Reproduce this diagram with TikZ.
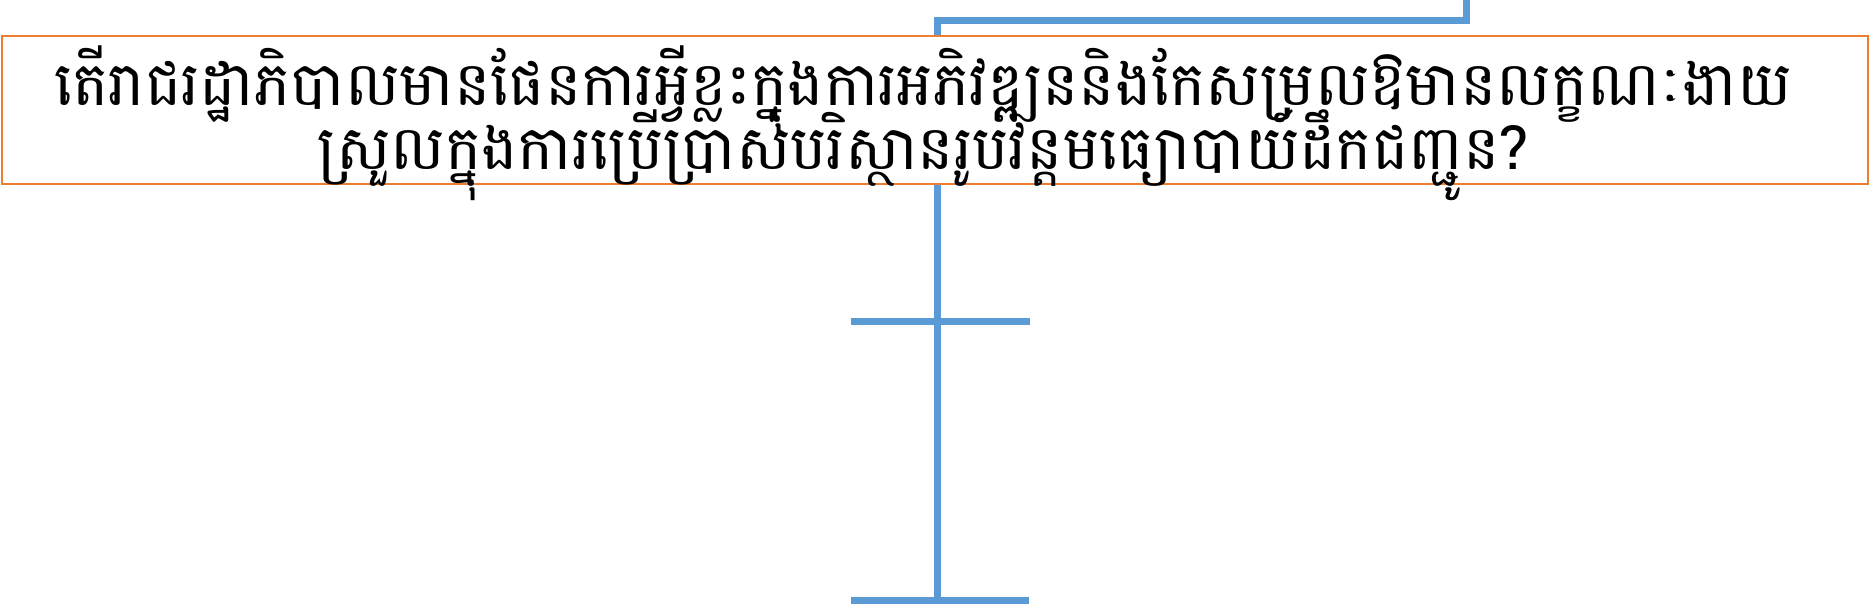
\documentclass[tikz,border=0pt]{standalone}
\usepackage{fontspec}
\newfontfamily\khmerfont[Script=Khmer]{Battambang}
\usetikzlibrary{backgrounds}
\definecolor{officeblue}{HTML}{5B9BD5}
\definecolor{officeorange}{HTML}{ED7D31}
\newcommand\qfont{\khmerfont\fontsize{61pt}{64pt}\selectfont\lineskiplimit=-500pt\relax\lineskip=0pt\relax}
\tikzset{
  qbox/.style={draw=officeorange, line width=2.5pt, fill=white, inner sep=0pt,
    minimum width=1866pt, minimum height=148pt},
  qtext/.style={inner sep=0pt, align=center, font=\qfont},
  bline/.style={draw=officeblue, line width=7pt}
}
\begin{document}
\begin{tikzpicture}[x=1pt,y=-1pt]
\useasboundingbox (0,0) rectangle (1873,608);
\node[qbox] (q) at (935,110) {};
\node[qtext, anchor=center] (qt) at ([xshift=-12pt,yshift=-13pt]q.center) {តើរាជរដ្ឋាភិបាលមានផែនការអ្វីខ្លះក្នុងការអភិវឌ្ឍននិងកែសម្រលឱមានលក្ខណៈងាយ\\ស្រួលក្នុងការប្រើប្រាស់បរិស្ថានរូបវន្តមធ្យោបាយ៍ដឹកជញ្ជូន?};
\coordinate (top) at (1466,0);
\coordinate (bend) at (937,20);
\coordinate (cross) at (937,321);
\coordinate (crossL) at (851,321);
\coordinate (crossR) at (1030,321);
\coordinate (foot) at (937,600);
\coordinate (footL) at (851,600);
\coordinate (footR) at (1029,600);
\begin{pgfonlayer}{background}
\draw[bline] (top) |- (bend) -- (foot);
\draw[bline] (crossL) -- (crossR);
\draw[bline] (footL) -- (footR);
\end{pgfonlayer}
\end{tikzpicture}
\end{document}
